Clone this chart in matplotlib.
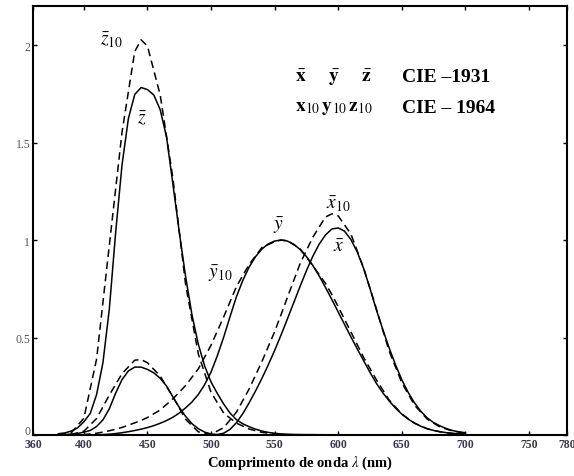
import matplotlib
matplotlib.use('Agg')
import matplotlib.pyplot as plt
import matplotlib.transforms as mtransforms
import numpy as np

plt.rcParams['font.family'] = ['Liberation Serif', 'DejaVu Serif']
plt.rcParams['mathtext.fontset'] = 'stix'

# CIE 1931 (2 graus)
wl31 = [380, 385, 390, 395, 400, 405, 410, 415, 420, 425, 430, 435, 440, 445, 450,
        455, 460, 465, 470, 475, 480, 485, 490, 495, 500, 505, 510, 515, 520, 525,
        530, 535, 540, 545, 550, 555, 560, 565, 570, 575, 580, 585, 590, 595, 600,
        605, 610, 615, 620, 625, 630, 635, 640, 645, 650, 655, 660, 665, 670, 675,
        680, 685, 690, 695, 700]
x31 = [0.0014, 0.0022, 0.0042, 0.0076, 0.0143, 0.0232, 0.0435, 0.0776, 0.1344, 0.2148,
       0.2839, 0.3285, 0.3483, 0.3481, 0.3362, 0.3187, 0.2908, 0.2511, 0.1954, 0.1421,
       0.0956, 0.0580, 0.0320, 0.0147, 0.0049, 0.0024, 0.0093, 0.0291, 0.0633, 0.1096,
       0.1655, 0.2257, 0.2904, 0.3597, 0.4334, 0.5121, 0.5945, 0.6784, 0.7621, 0.8425,
       0.9163, 0.9786, 1.0263, 1.0567, 1.0622, 1.0456, 1.0026, 0.9384, 0.8544, 0.7514,
       0.6424, 0.5419, 0.4479, 0.3608, 0.2835, 0.2187, 0.1649, 0.1212, 0.0874, 0.0636,
       0.0468, 0.0329, 0.0227, 0.0158, 0.0114]
y31 = [0.0000, 0.0001, 0.0001, 0.0002, 0.0004, 0.0006, 0.0012, 0.0022, 0.0040, 0.0073,
       0.0116, 0.0168, 0.0230, 0.0298, 0.0380, 0.0480, 0.0600, 0.0739, 0.0910, 0.1126,
       0.1390, 0.1693, 0.2080, 0.2586, 0.3230, 0.4073, 0.5030, 0.6082, 0.7100, 0.7932,
       0.8620, 0.9149, 0.9540, 0.9803, 0.9950, 1.0000, 0.9950, 0.9786, 0.9520, 0.9154,
       0.8700, 0.8163, 0.7570, 0.6949, 0.6310, 0.5668, 0.5030, 0.4412, 0.3810, 0.3210,
       0.2650, 0.2170, 0.1750, 0.1382, 0.1070, 0.0816, 0.0610, 0.0446, 0.0320, 0.0232,
       0.0170, 0.0119, 0.0082, 0.0057, 0.0041]
z31 = [0.0065, 0.0105, 0.0201, 0.0362, 0.0679, 0.1102, 0.2074, 0.3713, 0.6456, 1.0391,
       1.3856, 1.6230, 1.7471, 1.7826, 1.7721, 1.7441, 1.6692, 1.5281, 1.2876, 1.0419,
       0.8130, 0.6162, 0.4652, 0.3533, 0.2720, 0.2123, 0.1582, 0.1117, 0.0782, 0.0573,
       0.0422, 0.0299, 0.0203, 0.0134, 0.0087, 0.0057, 0.0039, 0.0027, 0.0021, 0.0018,
       0.0017, 0.0014, 0.0011, 0.0010, 0.0008, 0.0006, 0.0003, 0.0002, 0.0002, 0.0001,
       0.0000, 0.0000, 0.0000, 0.0000, 0.0000, 0.0000, 0.0000, 0.0000, 0.0000, 0.0000,
       0.0000, 0.0000, 0.0000, 0.0000, 0.0000]

# CIE 1964 (10 graus)
wl64 = [380, 390, 400, 410, 420, 430, 440, 445, 450, 460, 470, 480, 490, 500, 510, 520,
        530, 540, 550, 555, 560, 570, 580, 590, 595, 600, 610, 620, 630, 640, 650, 660,
        670, 680, 690, 700]
x64 = [0.0002, 0.0024, 0.0191, 0.0847, 0.2045, 0.3147, 0.3837, 0.3867, 0.3707, 0.3023,
       0.1956, 0.0805, 0.0162, 0.0038, 0.0375, 0.1177, 0.2365, 0.3768, 0.5298, 0.6163,
       0.7052, 0.8787, 1.0142, 1.1185, 1.1343, 1.1240, 1.0305, 0.8563, 0.6475, 0.4316,
       0.2683, 0.1526, 0.0813, 0.0409, 0.0199, 0.0096]
y64 = [0.0000, 0.0003, 0.0020, 0.0088, 0.0214, 0.0387, 0.0621, 0.0747, 0.0895, 0.1282,
       0.1852, 0.2536, 0.3391, 0.4608, 0.6067, 0.7618, 0.8752, 0.9620, 0.9918, 1.0000,
       0.9973, 0.9556, 0.8689, 0.7774, 0.7204, 0.6583, 0.5280, 0.3981, 0.2835, 0.1798,
       0.1076, 0.0603, 0.0318, 0.0159, 0.0077, 0.0037]
z64 = [0.0007, 0.0105, 0.0860, 0.3894, 0.9725, 1.5535, 1.9673, 2.0273, 1.9948, 1.7454,
       1.3176, 0.7721, 0.4153, 0.2185, 0.1120, 0.0607, 0.0305, 0.0137, 0.0040, 0.0010,
       0.0000, 0.0000, 0.0000, 0.0000, 0.0000, 0.0000, 0.0000, 0.0000, 0.0000, 0.0000,
       0.0000, 0.0000, 0.0000, 0.0000, 0.0000, 0.0000]

xticks = [360, 400, 450, 500, 550, 600, 650, 700, 750, 780]
yticks = [0, 0.5, 1, 1.5, 2]
yticklabels = ['0', '0.5', '1', '1.5', '2']

fig = plt.figure(figsize=(5.74, 4.77), dpi=100)
ax = fig.add_axes([0.0575, 0.086, 0.9305, 0.899])

for y in (x31, y31, z31):
    ax.plot(wl31, y, color='black', lw=1.1, ls='-')
for y in (x64, y64, z64):
    ax.plot(wl64, y, color='black', lw=1.1, ls=(0, (5, 3)))

ax.set_xlim(360, 780)
ax.set_ylim(0, 2.2)
ax.set_xticks(xticks)
ax.set_xticklabels([str(t) for t in xticks], fontsize=8.5, fontweight='bold', color='#3a3a4a')
ax.set_yticks(yticks)
ax.set_yticklabels(yticklabels, fontsize=8.5, color='#5a5060')
ax.tick_params(direction='in', length=3, width=1, top=True, right=True, pad=2)
for s in ax.spines.values():
    s.set_linewidth(1.5)

# o "0" do eixo y fica um pouco acima, como no original
lab0 = ax.get_yticklabels()[0]
lab0.set_transform(lab0.get_transform() + mtransforms.ScaledTranslation(0, 4 / 72, fig.dpi_scale_trans))

ax.set_xlabel(r'Comprimento de onda $\lambda$ (nm)', fontsize=10.5, fontweight='bold', labelpad=3)

# rotulos das curvas
ax.text(422, 2.03, r'$\bar{z}_{10}$', fontsize=14, ha='center', va='center')
ax.text(446, 1.63, r'$\bar{z}$', fontsize=14, ha='center', va='center')
ax.text(553, 1.08, r'$\bar{y}$', fontsize=14, ha='center', va='center')
ax.text(507, 0.83, r'$\bar{y}_{10}$', fontsize=14, ha='center', va='center')
ax.text(600, 1.19, r'$\bar{x}_{10}$', fontsize=14, ha='center', va='center')
ax.text(600, 0.965, r'$\bar{x}$', fontsize=14, ha='center', va='center')

ax.text(566, 1.84, r'$\bar{\mathbf{x}}\ \ \ \ \ \bar{\mathbf{y}}\ \ \ \ \ \bar{\mathbf{z}}$',
        fontsize=14, fontweight='bold', ha='left', va='center')
ax.text(566, 1.68, r'$\mathbf{x}_{10}\,\mathbf{y}_{10}\,\mathbf{z}_{10}$',
        fontsize=14, fontweight='bold', ha='left', va='center')
ax.text(650, 1.84, 'CIE –1931', fontsize=14, fontweight='bold', ha='left', va='center')
ax.text(650, 1.68, 'CIE – 1964', fontsize=14, fontweight='bold', ha='left', va='center')

fig.savefig('out.png', dpi=100)
